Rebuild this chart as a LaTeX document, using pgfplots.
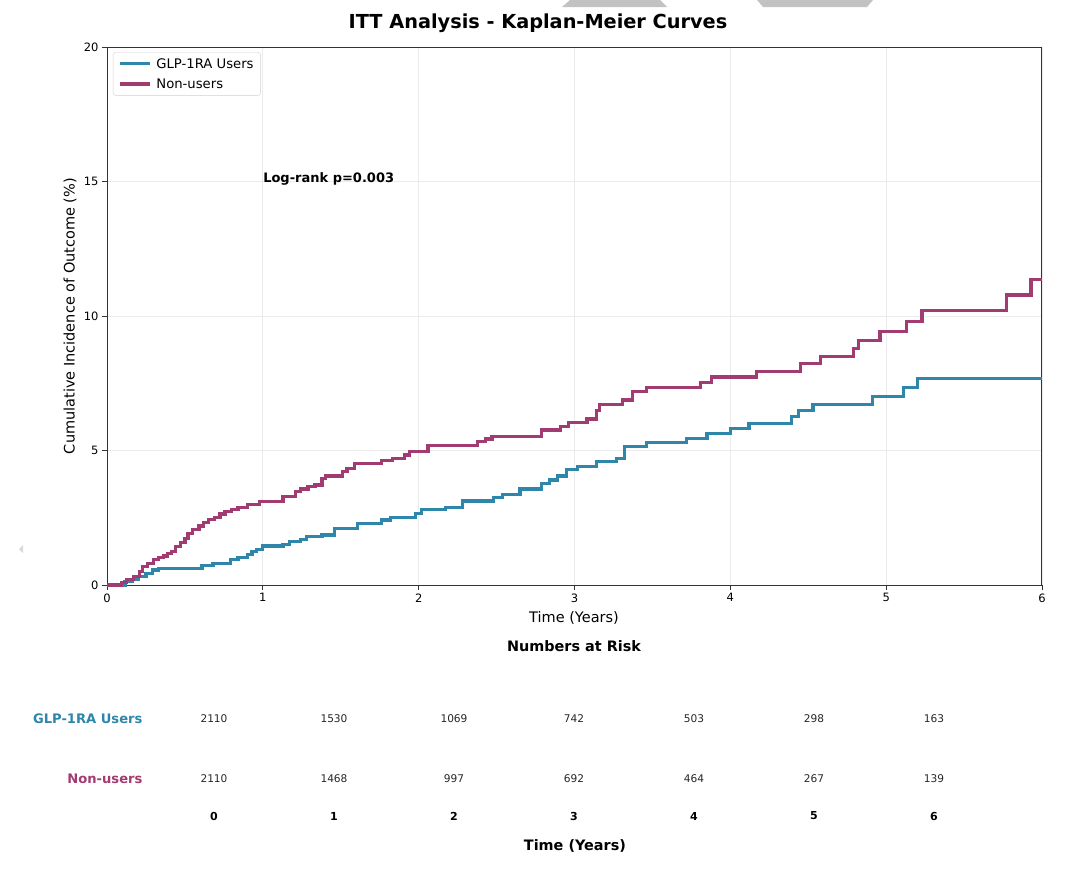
\documentclass[border=0pt]{standalone}
\usepackage{fontspec}
\setmainfont{DejaVu Sans}
\usepackage{pgfplots}
\pgfplotsset{compat=1.18}
\definecolor{glpblue}{HTML}{2E86AB}
\definecolor{nonmag}{HTML}{A23B72}
\definecolor{gridgray}{HTML}{EBEBEB}
\definecolor{shadegray}{HTML}{C2C2C2}

\begin{document}
\begin{tikzpicture}
\path[use as bounding box] (0,0) rectangle (1080pt,-873pt);

% grey shapes along the top edge
\fill[shadegray] (570pt,0pt) -- (660pt,0pt) -- (667pt,-7pt) -- (562pt,-7pt) -- cycle;
\fill[shadegray] (757pt,0pt) -- (873pt,0pt) -- (867pt,-7pt) -- (763pt,-7pt) -- cycle;
\fill[black!15] (23pt,-545pt) -- (23pt,-553pt) -- (19pt,-549pt) -- cycle;

\node[font=\fontsize{19.3}{22}\selectfont\bfseries] at (538pt,-23pt) {ITT Analysis - Kaplan-Meier Curves};

% Kaplan-Meier cumulative incidence (%), time in years
\begin{axis}[
  at={(107pt,-585pt)}, anchor=south west,
  scale only axis, width=935pt, height=538pt,
  xmin=0, xmax=6, ymin=0, ymax=20,
  xtick={0,1,...,6}, ytick={0,5,10,15,20},
  xtick pos=lower, ytick pos=left,
  grid=major, grid style={gridgray, line width=0.8pt},
  axis line style={black!80, line width=1pt},
  tick align=outside, major tick length=5pt,
  tick style={black!80, line width=0.8pt},
  tick label style={font=\fontsize{11.5}{13}\selectfont},
  /pgf/number format/assume math mode=true,
  legend style={at={(0.0064,0.9907)}, anchor=north west,
    draw=black!18, rounded corners=3pt, fill=white,
    inner xsep=5pt, inner ysep=4pt, row sep=5pt,
    /tikz/every odd column/.append style={column sep=3pt},
    font=\fontsize{13.2}{15}\selectfont},
  legend cell align=left,
  legend image code/.code={\draw[#1] (-2pt,0pt) -- (28pt,0pt);},
  clip=false,
]
\addplot[const plot, glpblue, line width=3.2pt] coordinates {
(0,0) (0.116,0.12) (0.16,0.21) (0.20,0.31) (0.25,0.43) (0.29,0.56)
(0.33,0.62) (0.61,0.74) (0.68,0.81) (0.79,0.95) (0.84,1.03) (0.90,1.12)
(0.93,1.24) (0.96,1.33) (1.00,1.45) (1.13,1.52) (1.17,1.61) (1.24,1.70)
(1.28,1.80) (1.38,1.86) (1.46,2.11) (1.61,2.29) (1.76,2.42) (1.82,2.52)
(1.98,2.66) (2.02,2.81) (2.17,2.89) (2.28,3.12) (2.48,3.25) (2.54,3.35)
(2.65,3.57) (2.79,3.78) (2.84,3.90) (2.89,4.05) (2.95,4.30) (3.02,4.40)
(3.14,4.58) (3.27,4.71) (3.32,5.14) (3.46,5.29) (3.72,5.45) (3.85,5.64)
(4.00,5.83) (4.12,6.01) (4.39,6.26) (4.44,6.48) (4.53,6.72) (4.91,7.00)
(5.11,7.34) (5.20,7.68) (6.00,7.68)
};
\addlegendentry{GLP-1RA Users}
\addplot[const plot, nonmag, line width=3.2pt] coordinates {
(0,0) (0.094,0.10) (0.126,0.19) (0.17,0.31) (0.21,0.49) (0.23,0.68)
(0.26,0.81) (0.30,0.95) (0.33,1.01) (0.36,1.08) (0.39,1.18) (0.415,1.26)
(0.44,1.42) (0.47,1.57) (0.50,1.74) (0.52,1.92) (0.55,2.07) (0.59,2.19)
(0.62,2.32) (0.65,2.44) (0.69,2.52) (0.725,2.64) (0.757,2.73) (0.80,2.81)
(0.84,2.89) (0.90,3.00) (0.98,3.09) (1.13,3.28) (1.21,3.47) (1.24,3.57)
(1.29,3.65) (1.335,3.72) (1.38,3.97) (1.40,4.05) (1.51,4.21) (1.54,4.34)
(1.59,4.52) (1.76,4.62) (1.83,4.71) (1.91,4.83) (1.94,4.96) (2.06,5.18)
(2.38,5.33) (2.43,5.43) (2.47,5.52) (2.79,5.76) (2.91,5.89) (2.96,6.05)
(3.08,6.17) (3.14,6.50) (3.16,6.72) (3.31,6.88) (3.37,7.19) (3.46,7.34)
(3.81,7.52) (3.88,7.73) (4.17,7.93) (4.45,8.22) (4.58,8.49) (4.79,8.80)
(4.82,9.08) (4.96,9.43) (5.13,9.79) (5.23,10.19) (5.77,10.78) (5.93,11.36)
(6.00,11.36)
};
\addlegendentry{Non-users}
\node[anchor=west, font=\fontsize{13}{15}\selectfont\bfseries] at (axis cs:0.98,15.1) {Log-rank p=0.003};
\end{axis}

\node[rotate=90, font=\fontsize{14.5}{17}\selectfont] at (70pt,-316pt) {Cumulative Incidence of Outcome (\%)};
\node[font=\fontsize{14.5}{17}\selectfont] at (574pt,-618pt) {Time (Years)};

% numbers-at-risk table
\begin{axis}[
  at={(94pt,-839pt)}, anchor=south west,
  x=120pt, y=60pt,
  xmin=-1, xmax=7, ymin=0, ymax=2.5,
  hide axis, clip=false,
]
\addplot[draw=none, nodes near coords, point meta=explicit symbolic,
  every node near coord/.append style={anchor=center, font=\fontsize{10.6}{12}\selectfont, text=black!85}]
  table[meta=n] {
x y n
0 2 2110
1 2 1530
2 2 1069
3 2 742
4 2 503
5 2 298
6 2 163
0 1 2110
1 1 1468
2 1 997
3 1 692
4 1 464
5 1 267
6 1 139
};
\addplot[draw=none, nodes near coords, point meta=explicit symbolic,
  every node near coord/.append style={anchor=center, font=\fontsize{11}{13}\selectfont\bfseries}]
  table[meta=n] {
x y n
0 0.383 0
1 0.383 1
2 0.383 2
3 0.383 3
4 0.383 4
5 0.383 5
6 0.383 6
};
\node[anchor=east, text=glpblue, font=\fontsize{13.1}{15}\selectfont\bfseries] at (axis cs:-0.567,2) {GLP-1RA Users};
\node[anchor=east, text=nonmag, font=\fontsize{13.1}{15}\selectfont\bfseries] at (axis cs:-0.567,1) {Non-users};
\node[font=\fontsize{14.4}{16}\selectfont\bfseries] at (axis cs:3.0,3.217) {Numbers at Risk};
\node[font=\fontsize{14.4}{16}\selectfont\bfseries] at (axis cs:3.008,-0.117) {Time (Years)};
\end{axis}
\end{tikzpicture}
\end{document}
